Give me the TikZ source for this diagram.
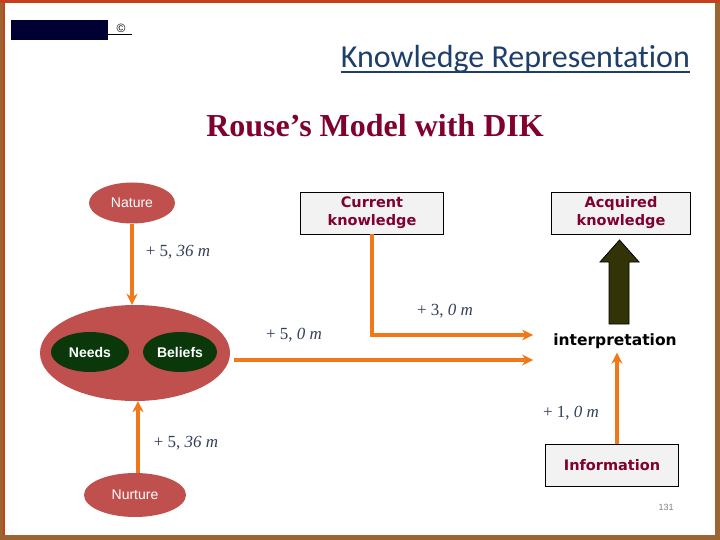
\documentclass[tikz,border=0pt]{standalone}
\usepackage{fontspec}
\setmainfont{Liberation Sans}
\newfontfamily\krfont{Carlito}[Ligatures=NoCommon]
\newfontfamily\rousefont{Liberation Serif}
\newfontfamily\boxfont{DejaVu Sans}
\usetikzlibrary{arrows.meta}
\usetikzlibrary{shapes.geometric}
\usetikzlibrary{positioning}

\definecolor{frameBrown}{HTML}{9A6530}
\definecolor{frameRed}{HTML}{C8401A}
\definecolor{navy}{HTML}{000033}
\definecolor{krBlue}{HTML}{1F3F6B}
\definecolor{crimson}{HTML}{800030}
\definecolor{ellRed}{HTML}{C0504D}
\definecolor{darkGreen}{HTML}{0A380A}
\definecolor{flowOrange}{HTML}{F07818}
\definecolor{oliveDark}{HTML}{333308}
\definecolor{boxGray}{HTML}{F2F2F2}
\definecolor{lblGray}{HTML}{34405A}

\newcommand{\dist}[2]{+ #1, \textit{#2 m}}

\tikzset{
  flow/.style={draw=flowOrange, line width=3.5pt, -{Stealth[length=11pt,width=11pt]}},
  redell/.style={ellipse, fill=ellRed, text=white, inner sep=0pt, font=\fontsize{14}{16}\selectfont},
  greenell/.style={ellipse, fill=darkGreen, text=white, inner sep=0pt, font=\fontsize{14}{16}\selectfont\bfseries},
  dikbox/.style={rectangle, draw=black, line width=0.8pt, fill=boxGray, text=crimson, align=center, inner sep=0pt,
    font=\boxfont\bfseries\fontsize{14.5}{18}\selectfont},
  lbl/.style={text=lblGray, font=\rousefont\fontsize{17}{19}\selectfont}
}

\begin{document}
\begin{tikzpicture}[x=1pt, y=-1pt]
		% slide frame
		\fill[frameBrown] (0,0) rectangle (720,540);
		\fill[white] (5,3) rectangle (715,535);
		\fill[frameRed] (0,0) rectangle (720,3);
		\fill[frameRed] (3,3) rectangle (5,535);
		\useasboundingbox (0,0) rectangle (720,540);

		\node[fill=navy, minimum width=97pt, minimum height=20pt, inner sep=0pt] (logo) at (59.5,30) {};
		\node[font=\fontsize{12}{14}\selectfont, inner sep=0pt] (copy) at (121,28) {©};
		\draw[line width=1pt] (logo.east |- 0,35) -- (132,35);

		\node[text=krBlue, font=\krfont\fontsize{32}{36}\selectfont, anchor=base east, inner sep=0pt] (kr) at (690,68) {Knowledge Representation};
		\draw[krBlue, line width=1.6pt] ([yshift=-4pt]kr.base west) -- ([yshift=-4pt]kr.base east);
		\node[text=crimson, font=\rousefont\bfseries\fontsize{32}{34}\selectfont, anchor=base, inner sep=0pt] (title) at (375,137) {Rouse’s Model with DIK};

		\node[redell, minimum width=86pt, minimum height=41pt] (nature) at (132,203) {Nature};
		\node[redell, minimum width=190pt, minimum height=96pt] (person) at (135,353) {};
		\node[greenell, minimum width=78pt, minimum height=40pt] (needs) at (90,352) {Needs};
		\node[greenell, minimum width=74pt, minimum height=40pt] (beliefs) at (180,352) {Beliefs};
		\node[redell, minimum width=102pt, minimum height=44pt] (nurture) at (135,495) {Nurture};

		\node[dikbox, minimum width=143pt, minimum height=42pt] (curk) at (372,213) {Current\\knowledge};
		\node[dikbox, minimum width=139pt, minimum height=42pt] (acqk) at (621,213) {Acquired\\knowledge};
		\node[font=\boxfont\bfseries\fontsize{15.5}{18}\selectfont, inner sep=2pt] (interp) at (615,341) {interpretation};
		\node[dikbox, minimum width=133pt, minimum height=42pt] (info) at (612,465) {Information};

		\node[lbl] (l1) at (178,252) {\dist{5}{36}};
		\node[lbl] (l2) at (294,335) {\dist{5}{0}};
		\node[lbl] (l3) at (445,311) {\dist{3}{0}};
		\node[lbl] (l4) at (186,443) {\dist{5}{36}};
		\node[lbl] (l5) at (571,413) {\dist{1}{0}};

		\node[text=gray, font=\fontsize{9}{11}\selectfont] (pg) at (666,507) {131};

		\draw[flow] (nature.south) -- (nature.south |- person.north);
		\draw[flow] ([xshift=3pt]nurture.north) -- ([xshift=3pt]nurture.north |- person.south);
		\draw[flow] ([xshift=4pt,yshift=-7pt]person.east) -- ([xshift=-18pt,yshift=-7pt]person.east -| interp.west);
		\draw[flow] (curk.south) |- ([xshift=-18pt,yshift=6pt]interp.west);
		\draw[flow] ([xshift=5pt]info.north) -- ([xshift=2pt,yshift=-2pt]interp.south);

		\draw[fill=oliveDark, line width=0.8pt] (609,324) -- (609,262) -- (600,262) -- (619.5,240) -- (639,262) -- (629,262) -- (629,324) -- cycle;
\end{tikzpicture}
\end{document}
